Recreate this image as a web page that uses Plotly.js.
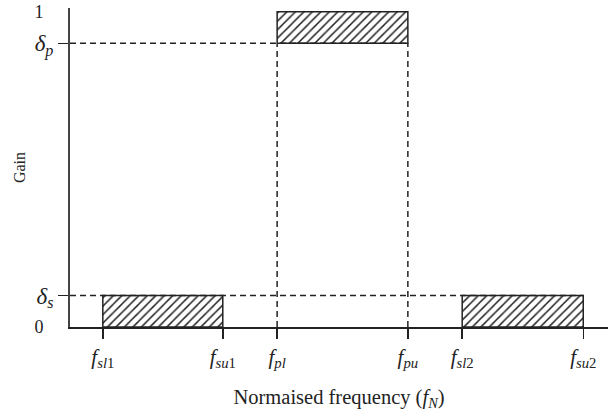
<!DOCTYPE html>
<html>
<head>
<meta charset="utf-8">
<script src="https://cdn.plot.ly/plotly-3.0.1.min.js"></script>
<style>html,body{margin:0;padding:0;background:#fff;}#chart{width:608px;height:418px;}</style>
</head>
<body>
<div id="chart"></div>
<script>
// Band edge frequencies (normalised frequency)
const edgeValues = [0.061, 0.284, 0.385, 0.628, 0.729, 0.954];
const edgeLabels = [
  '<i>f</i><sub><i>sl</i>1</sub>',
  '<i>f</i><sub><i>su</i>1</sub>',
  '<i>f</i><sub><i>pl</i></sub>',
  '<i>f</i><sub><i>pu</i></sub>',
  '<i>f</i><sub><i>sl</i>2</sub>',
  '<i>f</i><sub><i>su</i>2</sub>'
];
// Gain levels
const gainMax = 1;
const deltaP = 0.9;
const deltaS = 0.1;
const deltaVals = [deltaS, deltaP];
const deltaLabels = ['<i>δ</i><sub><i>s</i></sub>', '<i>δ</i><sub><i>p</i></sub>'];
const gainVals = [0, 1];
const gainLabels = ['0', '1'];
// Tolerance bands (hatched boxes)
const bandLow = [edgeValues[0], edgeValues[2], edgeValues[4]];
const bandHigh = [edgeValues[1], edgeValues[3], edgeValues[5]];
const bandBottom = [0, deltaP, 0];
const bandTop = [deltaS, gainMax, deltaS];

const ink = '#222';
const serif = 'Liberation Serif, Times New Roman, serif';

const traces = [];
for (let i = 0; i < bandLow.length; i++) {
  traces.push({
    type: 'scatter', mode: 'lines',
    x: [bandLow[i], bandHigh[i], bandHigh[i], bandLow[i], bandLow[i]],
    y: [bandBottom[i], bandBottom[i], bandTop[i], bandTop[i], bandBottom[i]],
    fill: 'toself',
    fillcolor: 'white',
    fillpattern: {shape: '/', size: 6, solidity: 0.25, fgcolor: '#222', bgcolor: 'white'},
    line: {color: ink, width: 1.5},
    hoverinfo: 'skip', showlegend: false
  });
}
// Dashed guide lines
const dash = {color: ink, width: 1.5, dash: '6px,4px'};
traces.push({type: 'scatter', mode: 'lines', x: [0, edgeValues[3]], y: [deltaP, deltaP], line: dash, showlegend: false, hoverinfo: 'skip'});
traces.push({type: 'scatter', mode: 'lines', x: [0, edgeValues[5]], y: [deltaS, deltaS], line: dash, showlegend: false, hoverinfo: 'skip'});
traces.push({type: 'scatter', mode: 'lines', x: [edgeValues[2], edgeValues[2]], y: [0, deltaP], line: dash, showlegend: false, hoverinfo: 'skip'});
traces.push({type: 'scatter', mode: 'lines', x: [edgeValues[3], edgeValues[3]], y: [0, deltaP], line: dash, showlegend: false, hoverinfo: 'skip'});
// invisible trace to activate yaxis2
traces.push({type: 'scatter', mode: 'lines', x: [0], y: [0], yaxis: 'y2', showlegend: false, hoverinfo: 'skip', line: {color: 'rgba(0,0,0,0)'}});

const layout = {
  width: 608, height: 418,
  margin: {l: 70, r: 0, t: 8, b: 91},
  paper_bgcolor: '#fff', plot_bgcolor: '#fff',
  showlegend: false,
  font: {family: serif, color: ink},
  xaxis: {
    range: [0, 1], showgrid: false, zeroline: false,
    showline: true, linecolor: ink, linewidth: 1.5,
    tickmode: 'array', tickvals: edgeValues, ticktext: edgeLabels,
    ticks: 'outside', ticklen: 10, tickwidth: 1.5, tickcolor: ink,
    tickfont: {family: serif, size: 21, color: ink},
    title: {text: 'Normaised frequency (<i>f</i><sub><i>N</i></sub>)', font: {family: serif, size: 20.5, color: ink}, standoff: 19},
    fixedrange: true
  },
  yaxis: {
    range: [0, 1.012], showgrid: false, zeroline: false,
    showline: true, linecolor: '#444', linewidth: 2,
    tickmode: 'array', tickvals: deltaVals, ticktext: deltaLabels,
    ticks: 'outside', ticklen: 10, tickwidth: 1.5, tickcolor: ink,
    tickfont: {family: serif, size: 23, color: ink},
    title: {text: 'Gain', font: {family: serif, size: 16, color: ink}, standoff: 5},
    fixedrange: true
  },
  yaxis2: {
    overlaying: 'y', side: 'left', range: [0, 1.012],
    showgrid: false, zeroline: false, showline: false,
    tickmode: 'array', tickvals: gainVals, ticktext: gainLabels,
    ticks: 'outside', ticklen: 22, tickcolor: 'rgba(0,0,0,0)',
    tickfont: {family: serif, size: 18, color: ink},
    fixedrange: true
  }
};

Plotly.newPlot('chart', traces, layout, {staticPlot: true, displayModeBar: false});
</script>
</body>
</html>
